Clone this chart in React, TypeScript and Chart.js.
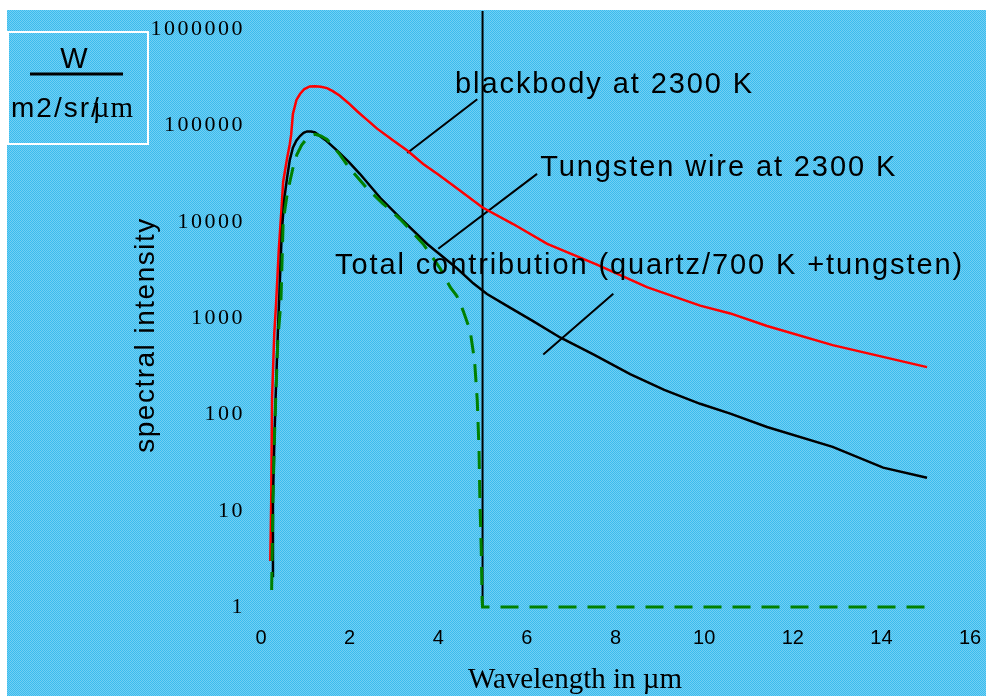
import React, { useEffect, useRef } from "react";
import { Chart, registerables } from "chart.js";

Chart.register(...registerables);

// ---------------- data ----------------
const blackbodyX = [0.21, 0.23, 0.25, 0.30, 0.34, 0.40, 0.47, 0.50, 0.59, 0.65, 0.68, 0.72, 0.80, 0.88, 0.98, 1.10, 1.22, 1.35, 1.49, 1.62, 1.78, 1.97, 2.17, 2.40, 2.62, 3.00, 3.30, 3.66, 4.00, 4.42, 5.00, 5.69, 6.46, 7.58, 8.71, 9.91, 10.59, 11.42, 12.90, 15.03];
const blackbodyY = [3, 12, 150, 700, 1400, 5000, 15500, 26000, 46000, 64000, 80000, 132000, 185000, 213000, 240000, 255000, 257000, 253000, 245000, 228000, 204000, 172000, 141000, 114000, 93000, 69000, 55000, 40000, 31000, 22400, 14100, 9500, 5900, 3600, 2100, 1350, 1120, 830, 525, 310];

const totalX = [0.25, 0.27, 0.30, 0.33, 0.38, 0.47, 0.53, 0.59, 0.65, 0.72, 0.80, 0.88, 0.96, 1.04, 1.13, 1.22, 1.45, 1.72, 1.98, 2.23, 2.69, 3.14, 3.75, 4.42, 4.79, 5.10, 5.60, 6.14, 6.75, 7.50, 8.33, 9.10, 9.91, 10.59, 11.42, 12.90, 14.04, 15.03];
const totalY = [2.1, 13, 50, 150, 700, 8000, 18000, 29000, 44000, 59000, 70000, 78000, 84000, 87000, 87000, 85000, 71000, 55000, 42000, 31600, 17800, 11000, 5900, 3300, 2300, 1780, 1300, 930, 630, 420, 263, 180, 129, 102, 74, 46, 28, 22];

const tungstenX = [0.24, 0.27, 0.30, 0.33, 0.38, 0.45, 0.50, 0.58, 0.65, 0.73, 0.81, 0.92, 1.04, 1.13, 1.22, 1.35, 1.49, 1.78, 2.00, 2.39, 2.75, 3.14, 3.66, 4.04, 4.27, 4.42, 4.56, 4.72, 4.82, 4.88, 4.92, 4.94, 4.97, 4.99, 5.00, 15.03];
const tungstenY = [1.5, 13, 50, 140, 600, 1500, 10000, 18000, 26000, 38000, 50000, 63000, 74000, 79000, 81000, 78000, 72000, 50000, 36000, 22400, 15500, 10700, 5900, 3300, 2100, 1700, 1200, 740, 360, 141, 43, 13, 4, 1.2, 1, 1];

const cutoffX = [5, 5];
const cutoffY = [1, 1550000];

const xTicks = [0, 2, 4, 6, 8, 10, 12, 14, 16];
const yTicks = [1, 10, 100, 1000, 10000, 100000, 1000000];
const yTickLabels = ["1", "10", "100", "1000", "10000", "100000", "1000000"];

const noteTexts = ["blackbody at 2300 K", "Tungsten wire at 2300 K", "Total contribution (quartz/700 K +tungsten)"];
const noteTextX = [4.38, 6.30, 1.67];
const noteTextY = [218000, 30000, 2900];
const pointerX = [[3.30, 4.88], [4.0, 6.23], [6.37, 7.95]];
const pointerY = [[51900, 188000], [5250, 31500], [419, 1790]];

const xTitle = "Wavelength in µm";
const yTitle = "spectral intensity";
const unitTop = "W";
const unitBottomA = "m2/sr/";
const unitBottomB = "µm";

const pts = (xs: number[], ys: number[]) => xs.map((x, i) => ({ x, y: ys[i] }));

const SANS = '"Liberation Sans", Arial, sans-serif';
const SERIF = '"Liberation Serif", "Times New Roman", serif';
const CYAN_A = "#3bbcee";
const CYAN_B = "#72cff3";

function makePattern(ctx: CanvasRenderingContext2D) {
  const c = document.createElement("canvas");
  c.width = 4;
  c.height = 4;
  const p = c.getContext("2d")!;
  for (let y = 0; y < 4; y++) {
    for (let x = 0; x < 4; x++) {
      p.fillStyle = (x + y) % 2 === 0 ? CYAN_A : CYAN_B;
      p.fillRect(x, y, 1, 1);
    }
  }
  return ctx.createPattern(c, "repeat") || "#56c4ef";
}

const decorPlugin = {
  id: "decor",
  beforeDraw(chart: any) {
    const ctx = chart.ctx as CanvasRenderingContext2D;
    const W = chart.width, H = chart.height;
    ctx.save();
    ctx.fillStyle = "#ffffff";
    ctx.fillRect(0, 0, W, H);
    ctx.fillStyle = makePattern(ctx) as any;
    ctx.fillRect(7, 10, W - 7, H - 10);
    // unit box
    ctx.strokeStyle = "#ffffff";
    ctx.lineWidth = 2;
    ctx.strokeRect(8, 32, 140, 112);
    ctx.fillStyle = "#000";
    ctx.font = `29px ${SANS}`;
    ctx.textAlign = "center";
    ctx.textBaseline = "alphabetic";
    ctx.fillText(unitTop, 74, 68);
    ctx.strokeStyle = "#000";
    ctx.lineWidth = 3;
    ctx.beginPath();
    ctx.moveTo(30, 74);
    ctx.lineTo(123, 74);
    ctx.stroke();
    ctx.textAlign = "left";
    (ctx as any).letterSpacing = "2px";
    ctx.font = `28px ${SANS}`;
    ctx.fillText(unitBottomA, 11, 117);
    const wa = ctx.measureText(unitBottomA).width;
    (ctx as any).letterSpacing = "1px";
    ctx.font = `29px ${SERIF}`;
    ctx.fillText(unitBottomB, 11 + wa - 8, 117);
    ctx.restore();
  },
  afterDraw(chart: any) {
    const ctx = chart.ctx as CanvasRenderingContext2D;
    const xs = chart.scales.x, ys = chart.scales.y;
    ctx.save();
    ctx.fillStyle = "#000";
    // y tick labels
    ctx.font = `22px ${SERIF}`;
    (ctx as any).letterSpacing = "2.5px";
    ctx.textAlign = "right";
    ctx.textBaseline = "middle";
    yTicks.forEach((v, i) => ctx.fillText(yTickLabels[i], xs.left - 16, ys.getPixelForValue(v)));
    // x tick labels
    (ctx as any).letterSpacing = "0px";
    ctx.font = `20px ${SANS}`;
    ctx.textAlign = "center";
    xTicks.forEach((v) => ctx.fillText(String(v), xs.getPixelForValue(v), ys.bottom + 31));
    // x title
    ctx.font = `29px ${SERIF}`;
    ctx.textBaseline = "alphabetic";
    ctx.fillText(xTitle, 575, 688);
    // y title
    ctx.save();
    ctx.translate(146, 335);
    ctx.rotate(-Math.PI / 2);
    ctx.font = `28px ${SANS}`;
    (ctx as any).letterSpacing = "1.5px";
    ctx.textBaseline = "middle";
    ctx.fillText(yTitle, 0, 0);
    ctx.restore();
    // annotations
    ctx.font = `29px ${SANS}`;
    (ctx as any).letterSpacing = "1.9px";
    ctx.textAlign = "left";
    ctx.textBaseline = "alphabetic";
    noteTexts.forEach((t, i) => ctx.fillText(t, xs.getPixelForValue(noteTextX[i]), ys.getPixelForValue(noteTextY[i])));
    ctx.restore();
  },
};

export default function App() {
  const ref = useRef<HTMLCanvasElement | null>(null);
  useEffect(() => {
    if (!ref.current) return;
    const pointerSets = pointerX.map((px, i) => ({
      label: "pointer" + i,
      data: pts(px, pointerY[i]),
      borderColor: "#000",
      borderWidth: 2,
      pointRadius: 0,
      showLine: true,
      clip: false as any,
      order: 4,
    }));
    const chart = new Chart(ref.current, {
      type: "scatter",
      data: {
        datasets: [
          { label: "Tungsten wire at 2300 K", data: pts(tungstenX, tungstenY), borderColor: "#008000", borderWidth: 3, borderDash: [18, 11], pointRadius: 0, showLine: true, clip: false as any, order: 0 },
          { label: "Total contribution", data: pts(totalX, totalY), borderColor: "#000000", borderWidth: 2.5, pointRadius: 0, showLine: true, clip: false as any, order: 1 },
          { label: "blackbody at 2300 K", data: pts(blackbodyX, blackbodyY), borderColor: "#ff0000", borderWidth: 2.5, pointRadius: 0, showLine: true, clip: false as any, order: 2 },
          { label: "cutoff", data: pts(cutoffX, cutoffY), borderColor: "#000000", borderWidth: 2, pointRadius: 0, showLine: true, clip: false as any, order: 3 },
          ...pointerSets,
        ] as any,
      },
      options: {
        responsive: false,
        animation: false,
        devicePixelRatio: 1,
        layout: { padding: { left: 261, right: 16, top: 11, bottom: 89 } },
        plugins: { legend: { display: false }, tooltip: { enabled: false }, title: { display: false } },
        elements: { line: { tension: 0 } },
        scales: {
          x: { type: "linear", min: 0, max: 16, display: false },
          y: { type: "logarithmic", min: 1, max: 1550000, display: false },
        },
      },
      plugins: [decorPlugin],
    });
    return () => chart.destroy();
  }, []);
  return (
    <div style={{ position: "absolute", left: 0, top: 0, width: 986, height: 696 }}>
      <canvas ref={ref} width={986} height={696} style={{ display: "block" }} />
    </div>
  );
}
